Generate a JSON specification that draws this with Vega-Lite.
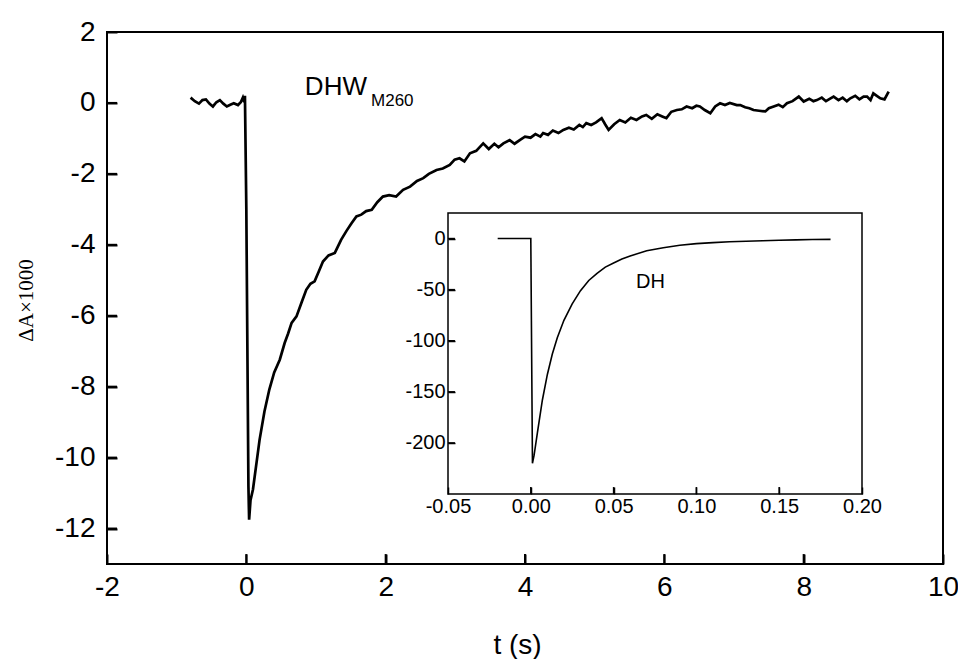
{
  "$schema": "https://vega.github.io/schema/vega-lite/v6.json",
  "width": 836,
  "height": 532,
  "autosize": {"type": "none"},
  "padding": {"left": 107, "top": 32, "right": 15, "bottom": 95},
  "background": "white",
  "config": {
    "view": {"stroke": "black", "strokeWidth": 2},
    "axis": {
      "grid": false,
      "domainColor": "black",
      "tickColor": "black",
      "labelColor": "black",
      "titleColor": "black",
      "labelFont": "Liberation Sans",
      "titleFont": "Liberation Sans",
      "titleFontWeight": "normal",
      "labelOverlap": false,
      "labelFlush": false,
      "labelExpr": "replace(datum.label, '−', '-')"
    }
  },
  "datasets": {
    "main": [
      {"t": -0.80, "v": 0.15}, {"t": -0.74, "v": 0.05}, {"t": -0.68, "v": -0.02}, {"t": -0.63, "v": 0.08},
      {"t": -0.58, "v": 0.10}, {"t": -0.53, "v": -0.02}, {"t": -0.48, "v": -0.10}, {"t": -0.43, "v": 0.02},
      {"t": -0.38, "v": 0.08}, {"t": -0.33, "v": -0.02}, {"t": -0.28, "v": -0.10}, {"t": -0.23, "v": -0.05},
      {"t": -0.18, "v": -0.01}, {"t": -0.12, "v": -0.06}, {"t": -0.08, "v": 0.02}, {"t": -0.05, "v": 0.15},
      {"t": -0.03, "v": 0.02}, {"t": -0.02, "v": 0.2}, {"t": 0.0, "v": -3.0}, {"t": 0.03, "v": -10.8},
      {"t": 0.04, "v": -11.75}, {"t": 0.06, "v": -11.2}, {"t": 0.095, "v": -10.9}, {"t": 0.19, "v": -9.5},
      {"t": 0.26, "v": -8.7}, {"t": 0.33, "v": -8.08}, {"t": 0.40, "v": -7.6}, {"t": 0.48, "v": -7.24},
      {"t": 0.55, "v": -6.77}, {"t": 0.60, "v": -6.5}, {"t": 0.65, "v": -6.2}, {"t": 0.72, "v": -6.02},
      {"t": 0.79, "v": -5.64}, {"t": 0.86, "v": -5.27}, {"t": 0.92, "v": -5.1}, {"t": 0.98, "v": -5.03},
      {"t": 1.04, "v": -4.75}, {"t": 1.10, "v": -4.47}, {"t": 1.18, "v": -4.3}, {"t": 1.27, "v": -4.23},
      {"t": 1.36, "v": -3.86}, {"t": 1.44, "v": -3.6}, {"t": 1.51, "v": -3.39}, {"t": 1.58, "v": -3.2},
      {"t": 1.65, "v": -3.15}, {"t": 1.72, "v": -3.05}, {"t": 1.80, "v": -3.01}, {"t": 1.88, "v": -2.8},
      {"t": 1.96, "v": -2.64}, {"t": 2.05, "v": -2.6}, {"t": 2.15, "v": -2.64}, {"t": 2.25, "v": -2.45},
      {"t": 2.35, "v": -2.36}, {"t": 2.45, "v": -2.2}, {"t": 2.54, "v": -2.12}, {"t": 2.62, "v": -2.0},
      {"t": 2.73, "v": -1.89}, {"t": 2.82, "v": -1.85}, {"t": 2.92, "v": -1.75}, {"t": 2.99, "v": -1.6},
      {"t": 3.06, "v": -1.56}, {"t": 3.13, "v": -1.65}, {"t": 3.21, "v": -1.42}, {"t": 3.30, "v": -1.35},
      {"t": 3.40, "v": -1.14}, {"t": 3.48, "v": -1.3}, {"t": 3.56, "v": -1.15}, {"t": 3.62, "v": -1.25},
      {"t": 3.69, "v": -1.14}, {"t": 3.78, "v": -1.05}, {"t": 3.85, "v": -1.15}, {"t": 3.93, "v": -1.04},
      {"t": 4.00, "v": -0.95}, {"t": 4.08, "v": -0.98}, {"t": 4.15, "v": -0.88}, {"t": 4.22, "v": -0.95},
      {"t": 4.26, "v": -0.85}, {"t": 4.33, "v": -0.9}, {"t": 4.40, "v": -0.78}, {"t": 4.48, "v": -0.85},
      {"t": 4.55, "v": -0.76}, {"t": 4.63, "v": -0.7}, {"t": 4.70, "v": -0.75}, {"t": 4.78, "v": -0.62},
      {"t": 4.83, "v": -0.68}, {"t": 4.88, "v": -0.57}, {"t": 4.95, "v": -0.62}, {"t": 5.02, "v": -0.55},
      {"t": 5.10, "v": -0.43}, {"t": 5.15, "v": -0.6}, {"t": 5.20, "v": -0.76}, {"t": 5.28, "v": -0.6},
      {"t": 5.36, "v": -0.48}, {"t": 5.44, "v": -0.55}, {"t": 5.52, "v": -0.42}, {"t": 5.60, "v": -0.48},
      {"t": 5.68, "v": -0.38}, {"t": 5.74, "v": -0.34}, {"t": 5.82, "v": -0.45}, {"t": 5.90, "v": -0.32},
      {"t": 5.97, "v": -0.38}, {"t": 6.03, "v": -0.43}, {"t": 6.10, "v": -0.25}, {"t": 6.18, "v": -0.2},
      {"t": 6.25, "v": -0.18}, {"t": 6.32, "v": -0.10}, {"t": 6.40, "v": -0.15}, {"t": 6.46, "v": -0.08},
      {"t": 6.51, "v": -0.10}, {"t": 6.58, "v": -0.2}, {"t": 6.66, "v": -0.29}, {"t": 6.73, "v": -0.1},
      {"t": 6.80, "v": -0.01}, {"t": 6.87, "v": -0.06}, {"t": 6.94, "v": 0.0}, {"t": 7.04, "v": -0.06},
      {"t": 7.09, "v": -0.06}, {"t": 7.16, "v": -0.12}, {"t": 7.22, "v": -0.15}, {"t": 7.28, "v": -0.2},
      {"t": 7.36, "v": -0.22}, {"t": 7.45, "v": -0.24}, {"t": 7.50, "v": -0.15}, {"t": 7.57, "v": -0.10},
      {"t": 7.64, "v": -0.05}, {"t": 7.70, "v": -0.12}, {"t": 7.76, "v": -0.01}, {"t": 7.84, "v": 0.05},
      {"t": 7.93, "v": 0.18}, {"t": 8.00, "v": 0.04}, {"t": 8.08, "v": 0.12}, {"t": 8.14, "v": 0.05},
      {"t": 8.19, "v": 0.08}, {"t": 8.26, "v": 0.15}, {"t": 8.32, "v": 0.05}, {"t": 8.38, "v": 0.12},
      {"t": 8.43, "v": 0.18}, {"t": 8.50, "v": 0.08}, {"t": 8.56, "v": 0.15}, {"t": 8.62, "v": 0.05},
      {"t": 8.67, "v": 0.13}, {"t": 8.74, "v": 0.2}, {"t": 8.80, "v": 0.1}, {"t": 8.86, "v": 0.18},
      {"t": 8.91, "v": 0.18}, {"t": 8.96, "v": 0.08}, {"t": 9.00, "v": 0.27}, {"t": 9.05, "v": 0.2},
      {"t": 9.10, "v": 0.13}, {"t": 9.16, "v": 0.1}, {"t": 9.22, "v": 0.32}
    ],
    "inset": [
      {"t": -0.02, "v": 0}, {"t": -0.01, "v": 0}, {"t": 0.0, "v": 0}, {"t": 0.001, "v": -220},
      {"t": 0.002, "v": -212}, {"t": 0.004, "v": -190}, {"t": 0.007, "v": -158}, {"t": 0.010, "v": -133},
      {"t": 0.013, "v": -113}, {"t": 0.016, "v": -97}, {"t": 0.020, "v": -80}, {"t": 0.025, "v": -64},
      {"t": 0.030, "v": -51}, {"t": 0.035, "v": -41}, {"t": 0.040, "v": -34}, {"t": 0.045, "v": -28},
      {"t": 0.050, "v": -24}, {"t": 0.055, "v": -20}, {"t": 0.060, "v": -17}, {"t": 0.070, "v": -12},
      {"t": 0.080, "v": -9}, {"t": 0.090, "v": -6.5}, {"t": 0.100, "v": -5}, {"t": 0.110, "v": -4},
      {"t": 0.120, "v": -3.2}, {"t": 0.130, "v": -2.6}, {"t": 0.140, "v": -2.1}, {"t": 0.150, "v": -1.7},
      {"t": 0.160, "v": -1.3}, {"t": 0.170, "v": -1.0}, {"t": 0.181, "v": -0.8}
    ],
    "frame": [{"x1": -0.05, "x2": 0.2, "y1": -250, "y2": 25}],
    "mainXTicks": [{"t": 0}, {"t": 2}, {"t": 4}, {"t": 6}, {"t": 8}],
    "mainYTicks": [{"v": -12}, {"v": -10}, {"v": -8}, {"v": -6}, {"v": -4}, {"v": -2}, {"v": 0}],
    "insetXTicks": [{"t": 0}, {"t": 0.05}, {"t": 0.1}, {"t": 0.15}],
    "insetYTicks": [{"v": -200}, {"v": -150}, {"v": -100}, {"v": -50}, {"v": 0}],
    "mainlabels": [
      {"t": 0.84, "v": 0.23, "label": "DHW", "size": "big"},
      {"t": 1.79, "v": -0.08, "label": "M260", "size": "small"}
    ],
    "insetlabels": [{"t": 0.0635, "v": -48, "label": "DH"}]
  },
  "layer": [
    {
      "data": {"name": "main"},
      "mark": {"type": "line", "color": "black", "strokeWidth": 2.7},
      "encoding": {
        "x": {
          "field": "t", "type": "quantitative",
          "scale": {"domain": [-2, 10], "nice": false, "zero": false},
          "axis": {
            "orient": "bottom", "offset": -10, "title": "t (s)", "values": [-2, 0, 2, 4, 6, 8, 10],
            "domain": false, "ticks": true, "tickSize": 10, "tickWidth": 2,
            "labelFontSize": 28, "labelPadding": 9,
            "titleFontSize": 28, "titleX": 410, "titleY": 99, "titleBaseline": "alphabetic", "titleAlign": "center"
          }
        },
        "y": {
          "field": "v", "type": "quantitative",
          "scale": {"domain": [-13, 2], "nice": false, "zero": false},
          "axis": {
            "orient": "left", "offset": -10, "title": "ΔA×1000", "values": [-12, -10, -8, -6, -4, -2, 0, 2],
            "domain": false, "ticks": true, "tickSize": 10, "tickWidth": 2,
            "labelFontSize": 28, "labelPadding": 12,
            "titleFont": "Liberation Serif", "titleFontSize": 21, "titleX": -85, "titleY": 268,
            "titleAngle": -90, "titleBaseline": "alphabetic", "titleAlign": "center"
          }
        }
      }
    },
    {
      "data": {"name": "mainYTicks"},
      "mark": {"type": "rule", "color": "black", "strokeWidth": 2},
      "encoding": {
        "y": {"field": "v", "type": "quantitative", "scale": {"domain": [-13, 2], "nice": false, "zero": false}, "axis": null},
        "x": {"datum": -2, "type": "quantitative", "scale": {"domain": [-2, 10], "nice": false, "zero": false}, "axis": null},
        "x2": {"datum": -1.856}
      }
    },
    {
      "data": {"name": "mainXTicks"},
      "mark": {"type": "rule", "color": "black", "strokeWidth": 2},
      "encoding": {
        "x": {"field": "t", "type": "quantitative", "scale": {"domain": [-2, 10], "nice": false, "zero": false}, "axis": null},
        "y": {"datum": -13, "type": "quantitative", "scale": {"domain": [-13, 2], "nice": false, "zero": false}, "axis": null},
        "y2": {"datum": -12.72}
      }
    },
    {
      "data": {"name": "mainlabels"},
      "mark": {"type": "text", "align": "left", "baseline": "alphabetic", "font": "Liberation Sans", "color": "black"},
      "encoding": {
        "x": {"field": "t", "type": "quantitative", "scale": {"domain": [-2, 10], "nice": false, "zero": false}, "axis": null},
        "y": {"field": "v", "type": "quantitative", "scale": {"domain": [-13, 2], "nice": false, "zero": false}, "axis": null},
        "text": {"field": "label"},
        "size": {"field": "size", "type": "nominal", "scale": {"domain": ["big", "small"], "range": [26, 17]}, "legend": null}
      }
    },
    {
      "data": {"name": "frame"},
      "mark": {"type": "rect", "fill": "white", "stroke": "black", "strokeWidth": 1.5},
      "encoding": {
        "x": {"field": "x1", "type": "quantitative", "scale": {"domain": [-0.05, 0.2], "range": [341, 755], "nice": false, "zero": false}, "axis": null},
        "x2": {"field": "x2"},
        "y": {"field": "y1", "type": "quantitative", "scale": {"domain": [-250, 25], "range": [462, 181], "nice": false, "zero": false}, "axis": null},
        "y2": {"field": "y2"}
      }
    },
    {
      "data": {"name": "insetYTicks"},
      "mark": {"type": "rule", "color": "black", "strokeWidth": 1.5},
      "encoding": {
        "y": {"field": "v", "type": "quantitative", "scale": {"domain": [-250, 25], "range": [462, 181], "nice": false, "zero": false}, "axis": null},
        "x": {"datum": -0.05, "type": "quantitative", "scale": {"domain": [-0.05, 0.2], "range": [341, 755], "nice": false, "zero": false}, "axis": null},
        "x2": {"datum": -0.0458}
      }
    },
    {
      "data": {"name": "insetXTicks"},
      "mark": {"type": "rule", "color": "black", "strokeWidth": 1.5},
      "encoding": {
        "x": {"field": "t", "type": "quantitative", "scale": {"domain": [-0.05, 0.2], "range": [341, 755], "nice": false, "zero": false}, "axis": null},
        "y": {"datum": -250, "type": "quantitative", "scale": {"domain": [-250, 25], "range": [462, 181], "nice": false, "zero": false}, "axis": null},
        "y2": {"datum": -243.2}
      }
    },
    {
      "data": {"name": "inset"},
      "mark": {"type": "line", "color": "black", "strokeWidth": 1.6},
      "encoding": {
        "x": {
          "field": "t", "type": "quantitative",
          "scale": {"domain": [-0.05, 0.2], "range": [341, 755], "nice": false, "zero": false},
          "axis": {
            "orient": "bottom", "offset": -77, "title": null, "values": [-0.05, 0, 0.05, 0.1, 0.15, 0.2],
            "format": ".2f", "domain": false, "ticks": true, "tickSize": 7, "tickWidth": 1.5,
            "labelFontSize": 20, "labelPadding": 2, "zindex": 1
          }
        },
        "y": {
          "field": "v", "type": "quantitative",
          "scale": {"domain": [-250, 25], "range": [462, 181], "nice": false, "zero": false},
          "axis": {
            "orient": "left", "offset": -348, "title": null, "values": [-200, -150, -100, -50, 0],
            "domain": false, "ticks": true, "tickSize": 7, "tickWidth": 1.5,
            "labelFontSize": 20, "labelPadding": 3, "zindex": 1
          }
        }
      }
    },
    {
      "data": {"name": "insetlabels"},
      "mark": {"type": "text", "align": "left", "baseline": "alphabetic", "font": "Liberation Sans", "fontSize": 20, "color": "black"},
      "encoding": {
        "x": {"field": "t", "type": "quantitative", "scale": {"domain": [-0.05, 0.2], "range": [341, 755], "nice": false, "zero": false}, "axis": null},
        "y": {"field": "v", "type": "quantitative", "scale": {"domain": [-250, 25], "range": [462, 181], "nice": false, "zero": false}, "axis": null},
        "text": {"field": "label"}
      }
    }
  ],
  "resolve": {
    "scale": {"x": "independent", "y": "independent"},
    "axis": {"x": "independent", "y": "independent"}
  }
}
